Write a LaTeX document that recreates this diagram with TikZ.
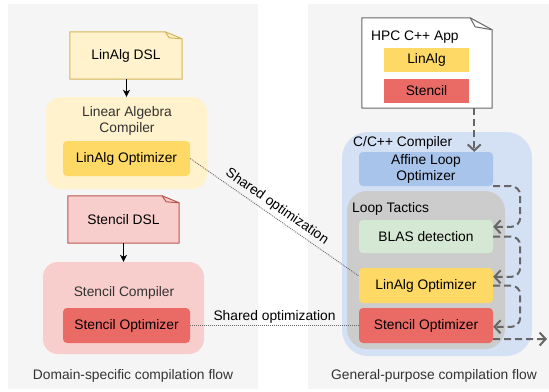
\documentclass[tikz,border=0pt]{standalone}
\usepackage{fontspec}
\setmainfont{Liberation Sans}
\usetikzlibrary{arrows.meta,calc,fit,backgrounds}

\definecolor{panelbg}{HTML}{F5F5F5}
\definecolor{yellowlight}{HTML}{FFF2CC}
\definecolor{yellowline}{HTML}{D6B656}
\definecolor{yellowmid}{HTML}{FFD966}
\definecolor{redlight}{HTML}{F8CECC}
\definecolor{redline}{HTML}{B85450}
\definecolor{redmid}{HTML}{EA6B66}
\definecolor{bluelight}{HTML}{D4E1F5}
\definecolor{bluemid}{HTML}{A9C4EB}
\definecolor{greylt}{HTML}{CCCCCC}
\definecolor{greenlight}{HTML}{D5E8D4}
\definecolor{flowgrey}{HTML}{666666}
\definecolor{labelgrey}{HTML}{333333}

\tikzset{
  region/.style={inner sep=0pt, draw=none},
  container/.style={region, rounded corners=#1},
  innerbox/.style={region, rounded corners=4pt, text=black},
  flat/.style={region, text=black},
  notetext/.style={region, text=black},
  boxlabel/.style={inner sep=0pt, text=labelgrey},
  plainlabel/.style={inner sep=0pt, text=black, anchor=west},
  solidflow/.style={line width=1.2pt, black, -{Stealth[length=7pt,width=7pt,inset=2pt]}},
  dashflow/.style={line width=2pt, flowgrey, dash pattern=on 7pt off 4pt,
    rounded corners=9pt, -{Straight Barb[length=6pt,width=13pt]}},
  shared/.style={line width=0.8pt, flowgrey, dash pattern=on 1pt off 1pt},
  sharedlabel/.style={text=black, inner sep=2pt}
}

\begin{document}
\begin{tikzpicture}[x=1pt,y=-1pt,font=\fontsize{13.8}{15.5}\selectfont]
\useasboundingbox (0,0) rectangle (549,391);

% two panels
\fill[panelbg] (8,4) rectangle (258,389);
\fill[panelbg] (308,4) rectangle (549,389);

% ---------- domain-specific side ----------
\node[notetext, fit={(70,32)(182,79)}] (lindsl) {};
\filldraw[fill=yellowlight, draw=yellowline, line width=1pt, line join=round]
  (lindsl.north west) -- ($(lindsl.north east)+(-17,0)$) -- ($(lindsl.north east)+(0,7)$)
  -- (lindsl.south east) -- (lindsl.south west) -- cycle;
\draw[yellowline, line width=1pt, line join=round]
  ($(lindsl.north east)+(-17,0)$) -- ($(lindsl.north east)+(-13,6)$) -- ($(lindsl.north east)+(0,7)$);
\node[text=black] at (lindsl) {LinAlg DSL};

\node[container=15pt, fill=yellowlight, fit={(46,97)(207,189)}] (lacomp) {};
\node[boxlabel, align=center] (lacomplabel) at (127,121) {Linear Algebra\\Compiler};
\node[innerbox, fill=yellowmid, fit={(63,141)(190,176)}] (laopt) {};
\node[text=black] (laopttext) at (laopt) {LinAlg Optimizer};

\node[notetext, fit={(68,196)(179,243)}] (stdsl) {};
\filldraw[fill=redlight, draw=redline, line width=1pt, line join=round]
  (stdsl.north west) -- ($(stdsl.north east)+(-17,0)$) -- ($(stdsl.north east)+(0,7)$)
  -- (stdsl.south east) -- (stdsl.south west) -- cycle;
\draw[redline, line width=1pt, line join=round]
  ($(stdsl.north east)+(-17,0)$) -- ($(stdsl.north east)+(-13,6)$) -- ($(stdsl.north east)+(0,7)$);
\node[text=black] at (stdsl) {Stencil DSL};

\node[container=15pt, fill=redlight, fit={(43,262)(204,354)}] (stcomp) {};
\node[boxlabel] (stcomplabel) at (124,293) {Stencil Compiler};
\node[innerbox, fill=redmid, fit={(63,308)(190,343)}] (stopt) {};
\node[text=black] (stopttext) at (stopt) {Stencil Optimizer};

\draw[solidflow] (lindsl.south -| lacomp.north) -- (lacomp.north);
\draw[solidflow] (stdsl.south) -- (stdsl.south |- stcomp.north);

\node[boxlabel] (leftcaption) at (133,376) {Domain-specific compilation flow};

% ---------- general-purpose side ----------
\node[notetext, fit={(362,18)(492,108)}] (hpc) {};
\filldraw[fill=white, draw=flowgrey, line width=1pt, line join=round]
  (hpc.north west) -- ($(hpc.north east)+(-22,0)$) -- ($(hpc.north east)+(0,12)$)
  -- (hpc.south east) -- (hpc.south west) -- cycle;
\draw[flowgrey, line width=1pt, line join=round]
  ($(hpc.north east)+(-22,0)$) -- ($(hpc.north east)+(-17,9)$) -- ($(hpc.north east)+(0,12)$);
\node[plainlabel] (hpclabel) at (371,37) {HPC C++ App};
\node[flat, fill=yellowmid, fit={(384,48)(469,72)}] (hpclin) {};
\node[text=black] at (hpclin) {LinAlg};
\node[flat, fill=redmid, fit={(384,79)(469,103)}] (hpcst) {};
\node[text=black] at (hpcst) {Stencil};

\node[container=26pt, fill=bluelight, fit={(342,132)(532,356)}] (cc) {};
\node[plainlabel] (cclabel) at (353,143) {C/C++ Compiler};
\node[innerbox, fill=bluemid, fit={(359,152)(493,186)}] (affine) {};
\node[text=black, align=center] at (affine) {Affine Loop\\Optimizer};

\node[container=20pt, fill=greylt, fit={(347,191)(505,349)}] (lt) {};
\node[plainlabel] (ltlabel) at (352,209) {Loop Tactics};
\node[innerbox, fill=greenlight, fit={(359,220)(493,253)}] (blas) {};
\node[text=black] at (blas) {BLAS detection};
\node[innerbox, fill=yellowmid, fit={(359,268)(493,303)}] (ltlin) {};
\node[text=black] at (ltlin) {LinAlg Optimizer};
\node[innerbox, fill=redmid, fit={(359,308)(493,343)}] (ltst) {};
\node[text=black] at (ltst) {Stencil Optimizer};

\node[boxlabel] (rightcaption) at (434,376) {General-purpose compilation flow};

% dashed compilation flow
\draw[dashflow] ($(hpc.south east)+(-18,0)$) -- ($(affine.north east)+(-19,0)$);
\draw[dashflow] (affine.south east) -| ($(blas.north east)+(27,7)$) -- ($(blas.north east)+(0,7)$);
\draw[dashflow] (blas.east) -| ($(ltlin.north east)+(27,9)$) -- ($(ltlin.north east)+(0,9)$);
\draw[dashflow] (ltlin.east) -| ($(ltst.north east)+(27,19)$) -- ($(ltst.north east)+(0,19)$);
\draw[dashflow] ($(ltst.south east)+(0,-4)$) -- (547,339);

% shared optimizers
\draw[shared] (laopt.east) -- ($(ltlin.north west)!0.23!(ltlin.south west)$)
  node[sharedlabel, pos=0.5, above, sloped, xshift=-4pt, yshift=1pt] {Shared optimization};
\draw[shared] (stopt.east) -- (ltst.west)
  node[sharedlabel, midway, above] {Shared optimization};
\end{tikzpicture}
\end{document}
